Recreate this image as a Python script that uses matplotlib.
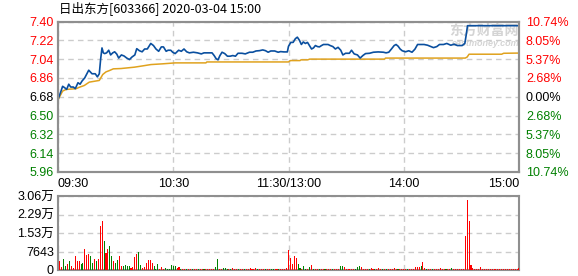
import matplotlib
matplotlib.use('Agg')
import matplotlib.pyplot as plt

plt.rcParams['font.family'] = ['Liberation Sans', 'Noto Sans CJK SC']

title = '日出东方[603366] 2020-03-04 15:00'
pre_close = 6.68
price_ticks = [7.40, 7.22, 7.04, 6.86, 6.68, 6.50, 6.32, 6.14, 5.96]
price_labels = ['7.40', '7.22', '7.04', '6.86', '6.68', '6.50', '6.32', '6.14', '5.96']
pct_labels = ['10.74%', '8.05%', '5.37%', '2.68%', '0.00%', '2.68%', '5.37%', '8.05%', '10.74%']
time_ticks = [0, 60, 120, 180, 240]
time_labels = ['09:30', '10:30', '11:30/13:00', '14:00', '15:00']
vol_ticks = [0, 7643, 15286, 22929, 30572]
vol_labels = ['0', '7643', '1.53万', '2.29万', '3.06万']

# last price, minute index (0 = 09:30, 120 = 11:30/13:00, 240 = 15:00)
price_min = [0, 1.4, 2.4, 3.5, 4.5, 5.6, 6.6, 8, 9, 10.4, 11.5, 12.5, 13.9, 16, 17.7,
             19.4, 20.5, 21.5, 22.2, 22.9, 23.6, 24.3, 25.3, 26.4, 27.4, 28.5, 29.5,
             30.6, 31.6, 33, 34.4, 35.8, 37.2, 38.5, 40, 41, 42.4, 43.8, 45.1, 46.5,
             48.3, 49.7, 51, 52.4, 53.8, 54.9, 56.3, 57.3, 58.7, 59.7, 61, 62.8, 64.2,
             65.6, 67, 68.4, 70.5, 72.6, 74.6, 76, 78.5, 80.2, 81.3, 82.3, 83.3, 84.3,
             85.4, 86.8, 88.2, 89.6, 91, 92.4, 93.7, 95.8, 97.5, 99.7, 101.4, 103.1,
             104.9, 106.6, 108, 109.4, 110.8, 112.8, 114.6, 115.9, 117.6, 119.4, 120,
             121.2, 122.4, 123.6, 124.6, 125.7, 126.7, 127.7, 128.8, 129.9, 130.9, 132,
             133, 134, 135.1, 136.1, 137.2, 138.2, 140.6, 141.7, 143.1, 144.4, 145.8,
             147.2, 148.3, 149.7, 151.7, 152.8, 154.2, 155.9, 157.3, 158.7, 160.1,
             162.2, 164.2, 166.7, 169.4, 170.8, 172.2, 173.6, 175, 176, 177.1, 178.1,
             179.2, 180.9, 182.6, 184.3, 185.8, 187.2, 189, 190.6, 192.4, 194.1, 195.5,
             197.2, 198.6, 200.7, 202.4, 204.5, 206.2, 207.9, 210.4, 211.8, 212.5,
             213.2, 240]
price_val = [6.655, 6.725, 6.78, 6.766, 6.75, 6.80, 6.773, 6.773, 6.757, 6.814, 6.80,
             6.83, 6.86, 6.934, 6.90, 6.90, 6.87, 6.90, 7.04, 7.147, 7.10, 7.093, 7.10,
             7.125, 7.08, 7.10, 7.11, 7.088, 7.05, 7.08, 7.07, 7.05, 7.036, 7.06, 7.08,
             7.14, 7.12, 7.11, 7.137, 7.137, 7.19, 7.17, 7.137, 7.115, 7.157, 7.157,
             7.115, 7.125, 7.125, 7.106, 7.093, 7.125, 7.115, 7.137, 7.11, 7.10, 7.106,
             7.10, 7.09, 7.10, 7.10, 7.10, 7.074, 7.045, 7.033, 7.074, 7.106, 7.093,
             7.068, 7.068, 7.074, 7.068, 7.096, 7.096, 7.09, 7.106, 7.106, 7.118, 7.121,
             7.128, 7.121, 7.106, 7.118, 7.118, 7.106, 7.112, 7.109, 7.109, 7.163, 7.20,
             7.20, 7.236, 7.25, 7.22, 7.18, 7.204, 7.19, 7.20, 7.17, 7.137, 7.147, 7.17,
             7.16, 7.157, 7.17, 7.18, 7.18, 7.17, 7.16, 7.137, 7.153, 7.125, 7.08,
             7.096, 7.096, 7.125, 7.09, 7.08, 7.05, 7.074, 7.093, 7.096, 7.106, 7.109,
             7.106, 7.10, 7.106, 7.137, 7.17, 7.18, 7.163, 7.137, 7.12, 7.11, 7.12,
             7.106, 7.135, 7.18, 7.18, 7.18, 7.173, 7.16, 7.15, 7.16, 7.18, 7.18, 7.19,
             7.173, 7.183, 7.17, 7.17, 7.19, 7.27, 7.36, 7.36]

# average price
avg_min = [0, 2.4, 4.2, 9.4, 11, 13.7, 16.3, 21.5, 23.3, 25, 26.7, 28.8, 32.8, 39.8,
           44, 48.4, 54.5, 61, 77, 77.5, 120, 121, 126, 126.5, 130, 131, 170, 170.5,
           212, 213, 214, 231, 232, 240]
avg_val = [6.65, 6.734, 6.75, 6.757, 6.77, 6.788, 6.82, 6.836, 6.893, 6.918, 6.93,
           6.947, 6.95, 6.963, 6.975, 6.988, 6.995, 7.004, 7.004, 7.013, 7.013, 7.026,
           7.026, 7.033, 7.033, 7.04, 7.04, 7.05, 7.05, 7.06, 7.087, 7.087, 7.096, 7.098]

# volume per minute (shares), 241 values
volumes = [0, 3820, 1270, 4670, 1700, 2550, 3820, 1700, 850, 5940,
           3820, 3820, 2550, 2970, 8490, 6370, 6790, 5940, 2970, 4670,
           3820, 4670, 18250, 20380, 11890, 7220, 8490, 9760, 5940, 3820,
           2970, 4250, 5940, 1700, 1700, 2120, 1700, 1700, 850, 1270,
           5520, 6790, 7640, 2120, 850, 1270, 2970, 4250, 4250, 2970,
           1700, 420, 2550, 420, 1270, 420, 850, 420, 420, 2120,
           1700, 1700, 850, 1270, 420, 400, 400, 420, 400, 400,
           400, 420, 400, 400, 420, 400, 400, 400, 420, 400,
           400, 420, 1270, 4670, 420, 400, 850, 850, 420, 400,
           420, 850, 400, 400, 420, 400, 400, 400, 420, 400,
           850, 400, 400, 850, 400, 420, 400, 400, 420, 400,
           400, 420, 400, 400, 400, 420, 400, 400, 400, 850,
           8070, 5090, 2550, 5940, 5090, 2550, 850, 420, 1700, 420,
           420, 1270, 2120, 420, 400, 400, 420, 400, 400, 420,
           400, 400, 400, 420, 400, 400, 420, 1700, 1700, 1270,
           400, 420, 400, 400, 420, 400, 1270, 1700, 1270, 400,
           400, 420, 400, 850, 400, 400, 420, 850, 400, 400,
           400, 420, 400, 400, 400, 850, 400, 400, 420, 400,
           400, 400, 420, 400, 400, 420, 1270, 1270, 1270, 1700,
           3400, 850, 420, 400, 420, 400, 400, 420, 400, 850,
           400, 400, 420, 400, 400, 850, 400, 400, 420, 400,
           400, 420, 14010, 28870, 20380, 2120, 850, 420, 400, 420,
           1270, 400, 400, 420, 400, 400, 420, 400, 400, 400,
           420, 400, 400, 420, 400, 400, 400, 420, 400, 400,
           850]
# r = up minute, g = down minute
vol_dir = ('rrrggrgrrr' 'rrggrrrggr' 'grrrgrrggr' 'ggrrggggrr' 'rrggrrrrrr'
           'gggrrrgggg' 'ggrrgrrgrr' 'grrgrrgrrr' 'rrggrrgggr' 'grrrgrrgrr'
           'rrrrgrrrgr' 'rggrrgrrrr' 'rrrrrggrgg' 'rgrgrrgrrg' 'rrrgrrrggr'
           'rrrrrgggrr' 'rrgrrgrrrg' 'rgrrrrrgrr' 'rrgrrrrrrg' 'rrgrrgrrrr'
           'rrgrrgrrrr' 'rrrrrrrrrr' 'rrrrrrrrrr' 'rrrrrrrrrr' 'r')

RED = '#ff0000'
GREEN = '#008000'
W, H = 578, 276


def box(l, t, r, b):
    return [l / W, 1 - b / H, (r - l) / W, (b - t) / H]


def level_color(v):
    if abs(v - pre_close) < 1e-6:
        return 'black'
    return RED if v > pre_close else GREEN


fig = plt.figure(figsize=(W / 100, H / 100), dpi=100)
ax = fig.add_axes(box(58, 21.5, 519, 172))
axv = fig.add_axes(box(58, 196, 519, 270))

grid_kw = dict(color='#cccccc', lw=1, ls=(0, (4, 3)))

# price panel
ax.plot(avg_min, avg_val, color='#e0a21e', lw=1.1, zorder=3)
ax.plot(price_min, price_val, color='#0a4f9f', lw=1.2, zorder=4)
ax.set_xlim(0, 240)
ax.set_ylim(5.96, 7.40)
ax.set_yticks(price_ticks, price_labels)
ax.set_xticks(time_ticks, time_labels)
ax.grid(True, **grid_kw)
ax.tick_params(length=0, labelsize=9, pad=3)
ax.tick_params(axis='x', pad=4)
for lbl, v in zip(ax.get_yticklabels(), price_ticks):
    lbl.set_color(level_color(v))
xl = ax.get_xticklabels()
xl[0].set_ha('left')
xl[-1].set_ha('right')

axr = ax.twinx()
axr.set_ylim(5.96, 7.40)
axr.set_yticks(price_ticks, pct_labels)
axr.tick_params(length=0, labelsize=9, pad=5)
for lbl, v in zip(axr.get_yticklabels(), price_ticks):
    lbl.set_color(level_color(v))

# watermark, behind the lines
ax.text(519 / W, 1 - 30.5 / H, '东方财富网', fontsize=10, fontweight='bold',
        color='#d4d4d4', ha='right', va='center', family=['Noto Sans CJK SC'],
        transform=fig.transFigure, zorder=1)
ax.text(519 / W, 1 - 43 / H, 'eastmoney.com', fontsize=6.5, fontweight='bold',
        style='italic', color='#d4d4d4', ha='right', va='center',
        transform=fig.transFigure, zorder=1)

# volume panel
bar_colors = [RED if c == 'r' else GREEN for c in vol_dir]
axv.bar(range(len(volumes)), volumes, width=0.55, color=bar_colors, linewidth=0, zorder=3)
axv.set_xlim(0, 240)
axv.set_ylim(0, 30572)
axv.set_xticks(time_ticks)
axv.set_yticks(vol_ticks, vol_labels)
axv.grid(True, **grid_kw)
axv.tick_params(length=0, labelsize=9, pad=3, labelbottom=False)

for a in (ax, axr, axv):
    for s in a.spines.values():
        s.set_color('#8f8f8f')
        s.set_linewidth(1.5)

fig.text(59 / W, 1 - 8.5 / H, title, fontsize=9, va='center', ha='left',
         family=['Noto Sans CJK SC', 'DejaVu Sans'])

fig.savefig('out.png', dpi=100)
